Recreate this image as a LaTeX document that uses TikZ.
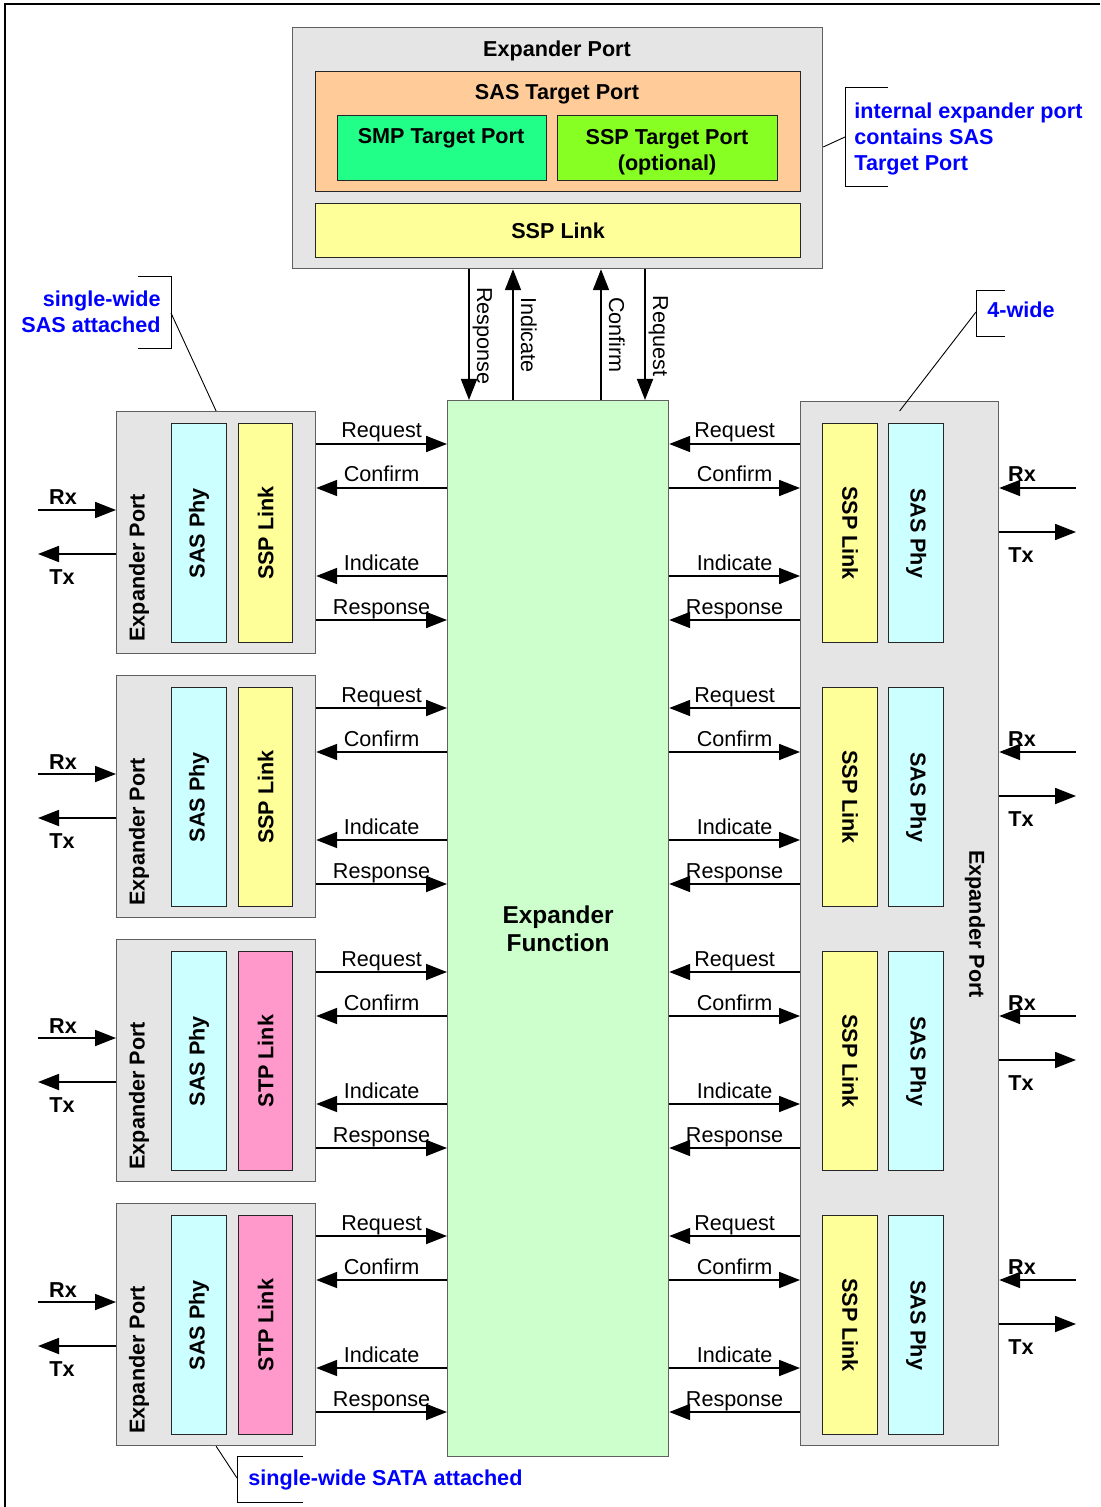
\documentclass[tikz,border=0pt]{standalone}
\usepackage{fontspec}
\setmainfont{Liberation Sans}
\usetikzlibrary{arrows.meta,calc,positioning}
\definecolor{boxgray}{HTML}{E5E5E5}
\definecolor{edgegray}{HTML}{606060}
\definecolor{peach}{HTML}{FFCC99}
\definecolor{smpgreen}{HTML}{22FF88}
\definecolor{sspgreen}{HTML}{88FF22}
\definecolor{linkyellow}{HTML}{FFFF99}
\definecolor{phycyan}{HTML}{CCFFFF}
\definecolor{stppink}{HTML}{FF99CC}
\definecolor{funcgreen}{HTML}{CCFFCC}
\definecolor{noteblue}{HTML}{0000FF}

\tikzset{
  blk/.style={draw=edgegray,line width=0.6pt,anchor=north west,inner sep=0pt},
  port/.style={blk,fill=boxgray},
  tier/.style={blk,draw=black!85,fill=#1},
  txt/.style={inner sep=0pt,font=\fontsize{10.8}{13}\selectfont},
  btxt/.style={inner sep=0pt,font=\fontsize{10.8}{13}\selectfont\bfseries},
  note/.style={inner sep=0pt,font=\fontsize{10.8}{13}\selectfont\bfseries,text=noteblue},
  lbl/.style={txt,midway,anchor=base,yshift=3pt},
  sig/.style={line width=0.9pt,-{Triangle[length=10.5pt,width=8pt]}},
  leader/.style={line width=0.45pt}
}

\begin{document}
\begin{tikzpicture}[x=0.5pt,y=-0.5pt]
  \useasboundingbox (0,0) rectangle (1100,1507);
  \draw[line width=0.6pt] (1100,4) -- (5,4) -- (5,1507);

  % internal expander port
  \node[port,minimum width=265pt,minimum height=120.5pt] (xport) at (292,27) {};
  \node[btxt,anchor=base] (xportt) at (557,57) {Expander Port};
  \node[tier=peach,minimum width=242.5pt,minimum height=60pt] (sastgt) at (315,71) {};
  \node[btxt,anchor=base] (sastgtt) at (557,100) {SAS Target Port};
  \node[tier=smpgreen,minimum width=104.5pt,minimum height=32.5pt] (smp) at (337,115) {};
  \node[btxt,anchor=base] (smpt) at (441,144) {SMP Target Port};
  \node[tier=sspgreen,minimum width=110pt,minimum height=32.5pt] (ssptgt) at (557,115) {};
  \node[btxt,anchor=north,align=center] (ssptgtt) at (667,129) {SSP Target Port\\(optional)};
  \node[tier=linkyellow,minimum width=242.5pt,minimum height=27pt] (ssplnk) at (315,203) {};
  \node[btxt] (ssplnkt) at (ssplnk.center) {SSP Link};

  % expander function
  \node[blk,fill=funcgreen,minimum width=110.5pt,minimum height=528pt] (ef) at (447,400) {};
  \node[btxt,font=\fontsize{12.2}{14}\selectfont\bfseries,align=center] (eft) at (ef.center) {Expander\\Function};

  % between the internal port and the function
  \foreach \xx/\word in {469/Response,645/Request} {
    \draw[sig] (xport.south -| \xx,0) -- (ef.north -| \xx,0);
    \node[txt,rotate=-90,anchor=base] at (\xx+8,336) {\word};
  }
  \foreach \xx/\word in {513/Indicate,601/Confirm} {
    \draw[sig] (ef.north -| \xx,0) -- (xport.south -| \xx,0);
    \node[txt,rotate=-90,anchor=base] at (\xx+8,335) {\word};
  }

  % single-wide ports on the left
  \foreach \i/\lcol/\lname in {1/linkyellow/SSP,2/linkyellow/SSP,3/stppink/STP,4/stppink/STP} {
    \pgfmathsetmacro\yy{411+264*(\i-1)}
    \node[port,minimum width=99.5pt,minimum height=121pt] (lp\i) at (116,\yy) {};
    \node[tier=phycyan,minimum width=27.5pt,minimum height=109.5pt] (lphy\i) at (171,\yy+12) {};
    \node[tier=\lcol,minimum width=27pt,minimum height=109.5pt] (llnk\i) at (238,\yy+12) {};
    \node[btxt,rotate=90] (lphyt\i) at (lphy\i.center) {SAS Phy};
    \node[btxt,rotate=90] (llnkt\i) at (llnk\i.center) {\lname{} Link};
    \node[btxt,rotate=90,anchor=west] (lpt\i) at (139,\yy+231) {Expander Port};
    \draw[sig] (lp\i.east |- 0,\yy+33) -- node[lbl]{Request} (ef.west |- 0,\yy+33);
    \draw[sig] (ef.west |- 0,\yy+77) -- node[lbl]{Confirm} (lp\i.east |- 0,\yy+77);
    \draw[sig] (ef.west |- 0,\yy+165) -- node[lbl]{Indicate} (lp\i.east |- 0,\yy+165);
    \draw[sig] (lp\i.east |- 0,\yy+209) -- node[lbl]{Response} (ef.west |- 0,\yy+209);
    \coordinate (rxin\i) at (38,\yy+99);
    \coordinate (txout\i) at (38,\yy+143);
    \draw[sig] (rxin\i) -- (rxin\i -| lp\i.west);
    \draw[sig] (txout\i -| lp\i.west) -- (txout\i);
    \node[btxt,anchor=base] (lrx\i) at (63,\yy+94) {Rx};
    \node[btxt,anchor=base] (ltx\i) at (62,\yy+173) {Tx};
  }

  % 4-wide port on the right
  \node[port,minimum width=99pt,minimum height=522pt] (rp) at (800,401) {};
  \node[btxt,rotate=-90] (rpt) at (975,924) {Expander Port};
  \foreach \i in {1,...,4} {
    \pgfmathsetmacro\yy{423+264*(\i-1)}
    \node[tier=linkyellow,minimum width=27.5pt,minimum height=109.5pt] (rlnk\i) at (822,\yy) {};
    \node[tier=phycyan,minimum width=27.5pt,minimum height=109.5pt] (rphy\i) at (888,\yy) {};
    \node[btxt,rotate=-90] (rlnkt\i) at (rlnk\i.center) {SSP Link};
    \node[btxt,rotate=-90] (rphyt\i) at (rphy\i.center) {SAS Phy};
    \draw[sig] (rp.west |- 0,\yy+21) -- node[lbl]{Request} (ef.east |- 0,\yy+21);
    \draw[sig] (ef.east |- 0,\yy+65) -- node[lbl]{Confirm} (rp.west |- 0,\yy+65);
    \draw[sig] (ef.east |- 0,\yy+153) -- node[lbl]{Indicate} (rp.west |- 0,\yy+153);
    \draw[sig] (rp.west |- 0,\yy+197) -- node[lbl]{Response} (ef.east |- 0,\yy+197);
    \coordinate (rxfar\i) at (1076,\yy+65);
    \coordinate (txfar\i) at (1076,\yy+109);
    \draw[sig] (rxfar\i) -- (rxfar\i -| rp.east);
    \draw[sig] (txfar\i -| rp.east) -- (txfar\i);
    \node[btxt,anchor=base] (rrx\i) at (1022,\yy+59) {Rx};
    \node[btxt,anchor=base] (rtx\i) at (1021,\yy+139) {Tx};
  }

  % callouts
  \draw[leader] (888,87) -- (845,87) -- (845,186) -- (888,186);
  \coordinate (notea) at (845,137);
  \draw[leader] (xport.east |- 0,147) -- (notea);
  \node[note,anchor=north west,align=left] (noteat) at (854,102) {internal expander port\\contains SAS\\Target Port};

  \draw[leader] (138,276) -- (171,276) -- (171,348) -- (138,348);
  \coordinate (noteb) at (171,313);
  \draw[leader] (noteb) -- (lp1.north);
  \node[note,anchor=north east,align=right] (notebt) at (161,290) {single-wide\\SAS attached};

  \draw[leader] (1005,290) -- (976,290) -- (976,336) -- (1005,336);
  \coordinate (notec) at (976,312);
  \draw[leader] (notec) -- ([yshift=-5pt]rp.north);
  \node[note,anchor=base west] (notect) at (987,318) {4-wide};

  \draw[leader] (303,1456) -- (237,1456) -- (237,1502) -- (303,1502);
  \coordinate (noted) at (237,1478);
  \draw[leader] (lp4.south) -- (noted);
  \node[note,anchor=base west] (notedt) at (248,1485) {single-wide SATA attached};
\end{tikzpicture}
\end{document}
